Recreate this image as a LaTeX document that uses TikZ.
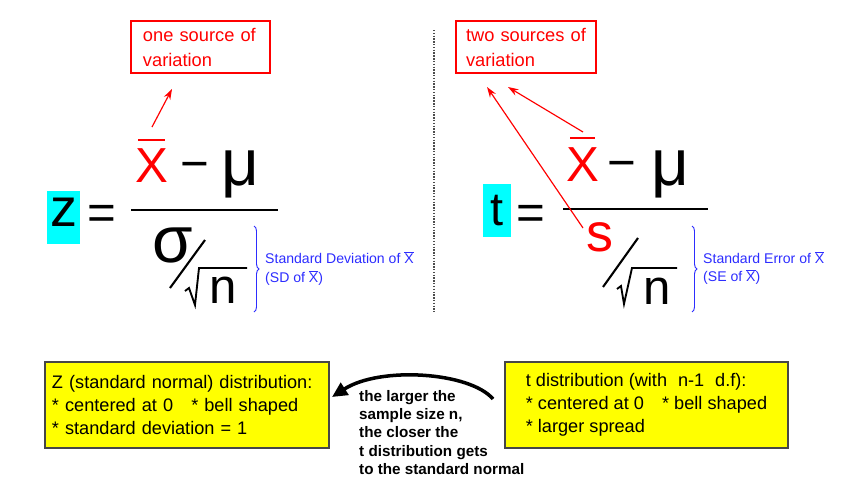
\documentclass[tikz,border=0pt]{standalone}
\usepackage{fontspec}
\setmainfont{Liberation Sans}
\usepackage{tikz}
\usetikzlibrary{arrows.meta, positioning, decorations.pathreplacing}
\definecolor{srcred}{RGB}{255, 0, 0}
\definecolor{statcyan}{RGB}{0, 255, 255}
\definecolor{distyel}{RGB}{255, 255, 0}
\definecolor{noteblue}{RGB}{45, 45, 255}
\definecolor{boxedge}{RGB}{70, 70, 70}
\newcommand{\xbar}{\ensuremath{\overline{\mbox{X}}}}
\newcommand{\fsz}[1]{\fontsize{#1}{#1}\selectfont}

\begin{document}
\begin{tikzpicture}[x=0.03cm, y=-0.03cm,
  glyph/.style={inner sep=0pt, outer sep=0pt},
  srcbox/.style={draw=srcred, text=srcred, line width=0.9pt, inner ysep=0.1cm,
                 minimum height=1.56cm, align=left, font=\fontsize{15.6}{21.3}\selectfont},
  distbox/.style={draw=boxedge, fill=distyel, line width=1.1pt, inner ysep=0.1cm,
                  minimum height=2.58cm, align=left, font=\fontsize{15.5}{19.6}\selectfont},
  varto/.style={-{Stealth[length=9pt, width=6pt]}, srcred, line width=1pt},
  note/.style={noteblue, inner sep=0pt, align=left, font=\fontsize{12}{16}\selectfont},
  fracline/.style={line width=2.2pt},
  xline/.style={srcred, line width=2pt},
  rootline/.style={line width=1.6pt, line join=miter}]
  \useasboundingbox[fill=white] (0,0) rectangle (841,477);

  % source-of-variation boxes
  \node[srcbox, text width=3.45cm, inner xsep=0.36cm] (onesrc) at (200.5,47) {one source of\\variation};
  \node[srcbox, text width=3.6cm, inner xsep=0.3cm] (twosrc) at (526,47) {two sources of\\variation};

  % z statistic
  \node[glyph, fill=statcyan, minimum width=0.99cm, minimum height=1.59cm,
        text depth=8.5pt, font=\fsz{46}] (zstat) at (63.5,217.5) {z};
  \node[glyph, anchor=base, font=\fsz{42}] (zeq) at (101.5,229) {=};
  \node[glyph, text=srcred, font=\fsz{42}] (zxbar) at (151.5,165.5) {X};
  \draw[xline] (138,140) -- (165,140);
  \node[glyph, anchor=base, font=\fsz{42}] (zminus) at (195,180) {−};
  \node[glyph, font=\fsz{56}] (zmu) at (240,174) {μ};
  \draw[fracline] (131,210) -- (278,210);
  \node[glyph, font=\fsz{56}] (zsigma) at (173,245) {σ};
  \draw[line width=1.8pt] (170,288) -- (205,240);
  \draw[rootline] (185,291) -- (189,288) -- (195,305) -- (199,268) -- (247,268);
  \node[glyph, font=\fsz{42}] (zn) at (223,290) {n};
  \draw[noteblue, decorate, decoration={brace, amplitude=0.15cm}, line width=0.8pt]
    (254,226) -- (254,312);
  \node[note, anchor=west] (zsd) at (265,268.5) {Standard Deviation of \xbar\\(SD of \xbar)};

  \draw[gray!60!black, line width=1.2pt, dash pattern=on 1.2pt off 1.2pt] (434,30) -- (434,312);

  % t statistic
  \node[glyph, fill=statcyan, minimum width=0.84cm, minimum height=1.59cm,
        font=\fsz{40}] (tstat) at (497,210.5) {t};
  \node[glyph, anchor=base, font=\fsz{42}] (teq) at (530.5,229) {=};
  \node[glyph, text=srcred, font=\fsz{42}] (txbar) at (582.5,165) {X};
  \draw[xline] (570,138) -- (595,138);
  \node[glyph, anchor=base, font=\fsz{42}] (tminus) at (622,179) {−};
  \node[glyph, font=\fsz{56}] (tmu) at (670,174) {μ};
  \draw[fracline] (563,209) -- (708,209);
  \node[glyph, text=srcred, font=\fsz{46}] (ts) at (600,237) {s};
  \draw[line width=1.8pt] (603,287) -- (638,238);
  \draw[rootline] (617,289) -- (621,286) -- (624,304) -- (632,268) -- (677,268);
  \node[glyph, font=\fsz{42}] (tn) at (657,291) {n};
  \draw[noteblue, decorate, decoration={brace, amplitude=0.15cm}, line width=0.8pt]
    (692,226) -- (692,312);
  \node[note, anchor=west] (tse) at (703,268) {Standard Error of \xbar\\(SE of \xbar)};

  % arrows to the boxes
  \coordinate (zxtip) at (152,127);
  \coordinate (onefoot) at (172,89);
  \coordinate (txtip) at (583,132);
  \coordinate (twofoota) at (508,87);
  \coordinate (tstip) at (583,228);
  \coordinate (twofootb) at (487,87);
  \draw[varto] (zxtip) -- (onefoot);
  \draw[varto] (txtip) -- (twofoota);
  \draw[varto] (tstip) -- (twofootb);

  % distributions
  \node[distbox, text width=8.1cm, inner xsep=0.21cm] (zdist) at (187,405)
    {Z (standard normal) distribution:\\{}* centered at 0\hspace{1em}* bell shaped\\{}* standard deviation = 1};
  \node[distbox, minimum width=8.49cm] (tdist) at (646.5,405)
    {t distribution (with\hspace{0.6em}n-1\hspace{0.6em}d.f):\\{}* centered at 0\hspace{1em}* bell shaped\\{}* larger spread};
  \coordinate (closetail) at (493,399);
  \coordinate (closehead) at (332,397);
  \draw[line width=3pt, -{Triangle[length=13pt, width=12pt]}]
    (closetail) .. controls (470,372) and (380,366) .. (closehead);
  \node[inner sep=0pt, anchor=north west, align=left, font=\bfseries\fontsize{13}{15.6}\selectfont]
    (closer) at (359,390) {the larger the\\sample size n,\\the closer the\\t distribution gets\\to the standard normal};
\end{tikzpicture}
\end{document}
